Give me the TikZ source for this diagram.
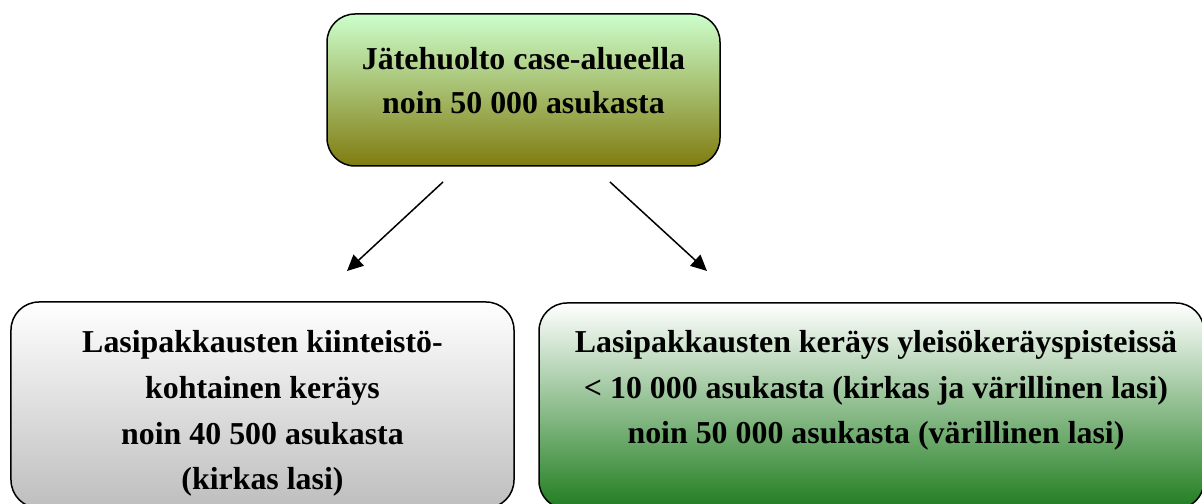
\documentclass[tikz,border=0pt]{standalone}
\usepackage{fontspec}
\setmainfont{Liberation Serif}
\usetikzlibrary{arrows.meta}
\definecolor{topgreen}{RGB}{204,255,204}
\definecolor{olivebot}{RGB}{128,124,16}
\definecolor{graybot}{RGB}{190,190,190}
\definecolor{greenbot}{RGB}{32,125,32}
\tikzset{
  box/.style={draw=black, line width=1.5bp, rounded corners=28bp, inner sep=0pt},
  txt/.style={align=center, font=\fontsize{32}{46}\selectfont\bfseries, inner sep=0pt},
  txttop/.style={align=center, font=\fontsize{32}{44}\selectfont\bfseries, inner sep=0pt},
  conn/.style={line width=1.5bp, -{Triangle[length=16bp,width=15bp]}}
}
\begin{document}
\begin{tikzpicture}[x=1bp,y=-1bp]
\useasboundingbox (0,0) rectangle (1202,504);
\clip (0,0) rectangle (1202,504);
\fill[white] (0,0) rectangle (1202,504);
% boxes
\node[box, top color=topgreen, bottom color=olivebot, minimum width=393bp, minimum height=152bp] (top) at (523.5,90) {};
\node[box, top color=white, bottom color=graybot, minimum width=503bp, minimum height=206bp] (left) at (262.5,405) {};
\node[box, top color=white, bottom color=greenbot, minimum width=665bp, minimum height=206bp] (right) at (871.5,406) {};
% texts
\node[txttop] (toptxt) at (523.5,80.5) {Jätehuolto case-alueella\\noin 50 000 asukasta};
\node[txt] (lefttxt) at (262.5,413.5) {Lasipakkausten kiinteistö-\\kohtainen keräys\\noin 40 500 asukasta\\(kirkas lasi)};
\node[txt] (righttxt) at (876,390.5) {Lasipakkausten keräys yleisökeräyspisteissä\\< 10 000 asukasta (kirkas ja värillinen lasi)\\noin 50 000 asukasta (värillinen lasi)};
% arrows
\coordinate (a1s) at (443,182);
\coordinate (a1e) at (347,271);
\coordinate (a2s) at (610,182);
\coordinate (a2e) at (707,271);
\draw[conn] (a1s) -- (a1e);
\draw[conn] (a2s) -- (a2e);
\end{tikzpicture}
\end{document}
